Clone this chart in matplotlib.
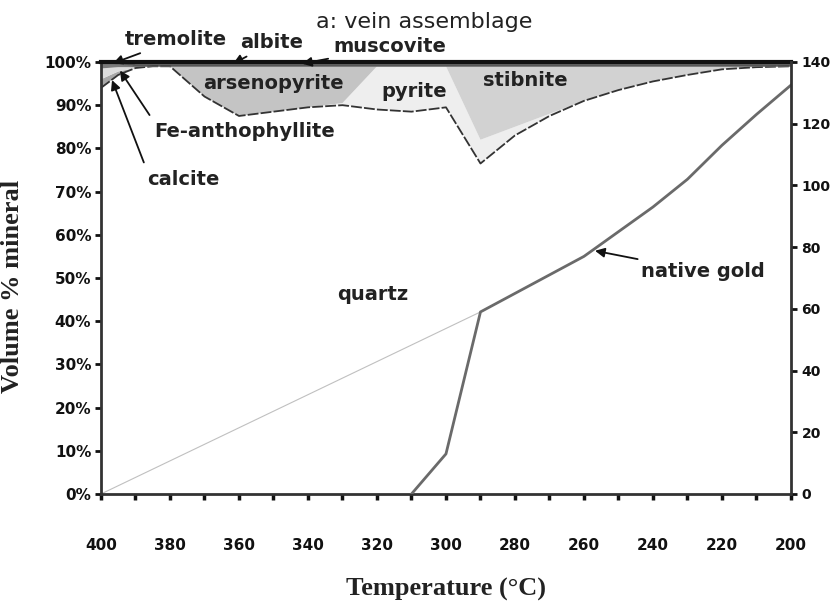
import numpy as np
import matplotlib
matplotlib.use('Agg')
import matplotlib.pyplot as plt

plt.rcParams['font.family'] = ['DejaVu Sans']

# temperature steps (deg C) and volume % of each mineral, stacked bottom to top
temps = [400, 395, 390, 385, 380, 370, 360, 350, 340, 330, 320, 310, 300,
         290, 280, 270, 260, 250, 240, 230, 220, 210, 200]
quartz = [94.0, 97.0, 98.6, 99.0, 99.0, 92.0, 87.5, 88.5, 89.5, 90.0, 89.0, 88.5, 89.5,
          76.5, 83.0, 87.5, 91.0, 93.5, 95.5, 97.0, 98.3, 98.8, 99.0]
calcite = [2.0, 0.8, 0, 0, 0, 0, 0, 0, 0, 0, 0, 0, 0, 0, 0, 0, 0, 0, 0, 0, 0, 0, 0]
fe_anth = [2.5, 1.0, 0.2, 0, 0, 0, 0, 0, 0, 0, 0, 0, 0, 0, 0, 0, 0, 0, 0, 0, 0, 0, 0]
tremolite = [1.5, 0.7, 0.2, 0, 0, 0, 0, 0, 0, 0, 0, 0, 0, 0, 0, 0, 0, 0, 0, 0, 0, 0, 0]
pyrite = [0, 0, 0, 0, 0, 0, 0, 0, 0, 0.5, 10.0, 10.5, 9.5, 5.5, 2.0, 0.5, 0, 0, 0, 0, 0, 0, 0]
arsenopyrite = [0, 0, 0, 0, 0, 7.0, 11.5, 10.5, 9.5, 8.5, 0, 0, 0, 0, 0, 0, 0, 0, 0, 0, 0, 0, 0]
stibnite = [0, 0, 0, 0, 0, 0, 0, 0, 0, 0, 0, 0, 0, 17.0, 14.0, 11.0, 8.0, 5.5, 3.5, 2.0, 0.7, 0.2, 0]
albite = [0, 0.5, 0.5, 0.5, 0.5, 0.5, 0.5, 0.5, 0.5, 0.5, 0.5, 0.5, 0.5,
          0.5, 0.5, 0.5, 0.5, 0.5, 0.5, 0.5, 0.5, 0.5, 0.5]
muscovite = [0, 0, 0.5, 0.5, 0.5, 0.5, 0.5, 0.5, 0.5, 0.5, 0.5, 0.5, 0.5,
             0.5, 0.5, 0.5, 0.5, 0.5, 0.5, 0.5, 0.5, 0.5, 0.5]

# native gold (right axis)
gold_temps = [310, 300, 290, 280, 270, 260, 250, 240, 230, 220, 210, 200]
gold = [0, 13, 59, 65, 71, 77, 85, 93, 102, 113, 123, 132.5]
guide_temps = [400, 290]
guide = [0, 59]

xticks = [400, 390, 380, 370, 360, 350, 340, 330, 320, 310, 300, 290, 280,
          270, 260, 250, 240, 230, 220, 210, 200]
xlabels = ['400', '', '380', '', '360', '', '340', '', '320', '', '300', '', '280',
           '', '260', '', '240', '', '220', '', '200']
yticks = [0, 10, 20, 30, 40, 50, 60, 70, 80, 90, 100]
ylabels = ['0%', '10%', '20%', '30%', '40%', '50%', '60%', '70%', '80%', '90%', '100%']
rticks = [0, 20, 40, 60, 80, 100, 120, 140]

fig = plt.figure(figsize=(8.34, 6.07), dpi=100)
ax = fig.add_axes([0.1211, 0.1862, 0.8273, 0.7117])

cols = ['white', '#a8a8a8', '#dcdcdc', '#7a7a7a', '#eeeeee', '#c4c4c4', '#d2d2d2', '#555555', '#333333']
ax.stackplot(temps, quartz, calcite, fe_anth, tremolite, pyrite, arsenopyrite, stibnite,
             albite, muscovite, colors=cols, linewidth=0)
# boundary lines
ax.plot(temps, quartz, color='#333333', lw=1.3, dashes=(6, 1.2))
top_ars = np.array(quartz) + np.array(calcite) + np.array(fe_anth) + np.array(tremolite) \
    + np.array(pyrite) + np.array(arsenopyrite)
ax.plot(temps, top_ars + np.array(stibnite), color='#666666', lw=0.6)
ax.plot(guide_temps, np.array(guide) / 1.4, color='#c0c0c0', lw=0.8)

ax.set_xlim(400, 200)
ax.set_ylim(0, 100)
ax.set_xticks(xticks)
ax.set_xticklabels(xlabels, fontsize=11, fontweight='bold')
ax.set_yticks(yticks)
ax.set_yticklabels(ylabels, fontsize=11, fontweight='bold')
ax.tick_params(axis='x', direction='out', length=4, width=2.5, pad=28, colors='#111111')
ax.tick_params(axis='y', direction='out', length=4, width=2, pad=3, colors='#111111')

for s in ['left', 'bottom']:
    ax.spines[s].set_linewidth(2)
    ax.spines[s].set_color('#333333')
ax.spines['top'].set_linewidth(3)
ax.spines['top'].set_color('#111111')
ax.spines['right'].set_visible(False)

ax2 = ax.twinx()
ax2.plot(gold_temps, gold, color='#6a6a6a', lw=2)
ax2.set_ylim(0, 140)
ax2.set_yticks(rticks)
ax2.set_yticklabels([str(v) for v in rticks], fontsize=10, fontweight='bold')
ax2.tick_params(axis='y', direction='out', length=4, width=2, pad=3.5, colors='#111111')
ax2.spines['right'].set_linewidth(2)
ax2.spines['right'].set_color('#333333')
for s in ['left', 'top', 'bottom']:
    ax2.spines[s].set_visible(False)

ax.set_xlabel('Temperature (°C)', family='Liberation Serif', fontsize=19, fontweight='bold',
              color='#222222')
ax.set_ylabel('Volume % mineral', family='Liberation Serif', fontsize=19, fontweight='bold',
              color='#222222')
ax.xaxis.set_label_coords(0.5, -0.195)
ax.yaxis.set_label_coords(-0.112, 0.48)

lab = dict(fontsize=14, fontweight='bold', color='#222222', ha='center', va='center')
arr = dict(arrowstyle='-|>', color='#111111', lw=1.3, mutation_scale=14, shrinkA=2, shrinkB=0)
arr_ul = dict(arr, relpos=(0.0, 1.0), shrinkA=4)

ax.text(306.4, 109.3, 'a: vein assemblage', fontsize=16, color='#222222', ha='center',
        va='center', clip_on=False)
ax.annotate('tremolite', xy=(396.5, 99.7), xytext=(378.3, 105.1), arrowprops=arr,
            annotation_clip=False, **lab)
ax.annotate('albite', xy=(361.7, 99.6), xytext=(350.4, 104.4), arrowprops=arr,
            annotation_clip=False, **lab)
ax.annotate('muscovite', xy=(341.7, 99.6), xytext=(316.2, 103.5), arrowprops=arr,
            annotation_clip=False, **lab)
ax.annotate('Fe-anthophyllite', xy=(394.5, 98.0), xytext=(358.3, 83.8), arrowprops=arr_ul, **lab)
ax.annotate('calcite', xy=(396.8, 95.8), xytext=(376.2, 72.7), arrowprops=arr_ul, **lab)
ax.text(350.1, 95.1, 'arsenopyrite', **lab)
ax.text(309.3, 93.1, 'pyrite', **lab)
ax.text(277.1, 95.8, 'stibnite', **lab)
ax.text(321.2, 46.1, 'quartz', **lab)
ax.annotate('native gold', xy=(256.8, 56.3), xytext=(225.5, 51.4), arrowprops=arr, **lab)

fig.savefig('out.png', dpi=100)
